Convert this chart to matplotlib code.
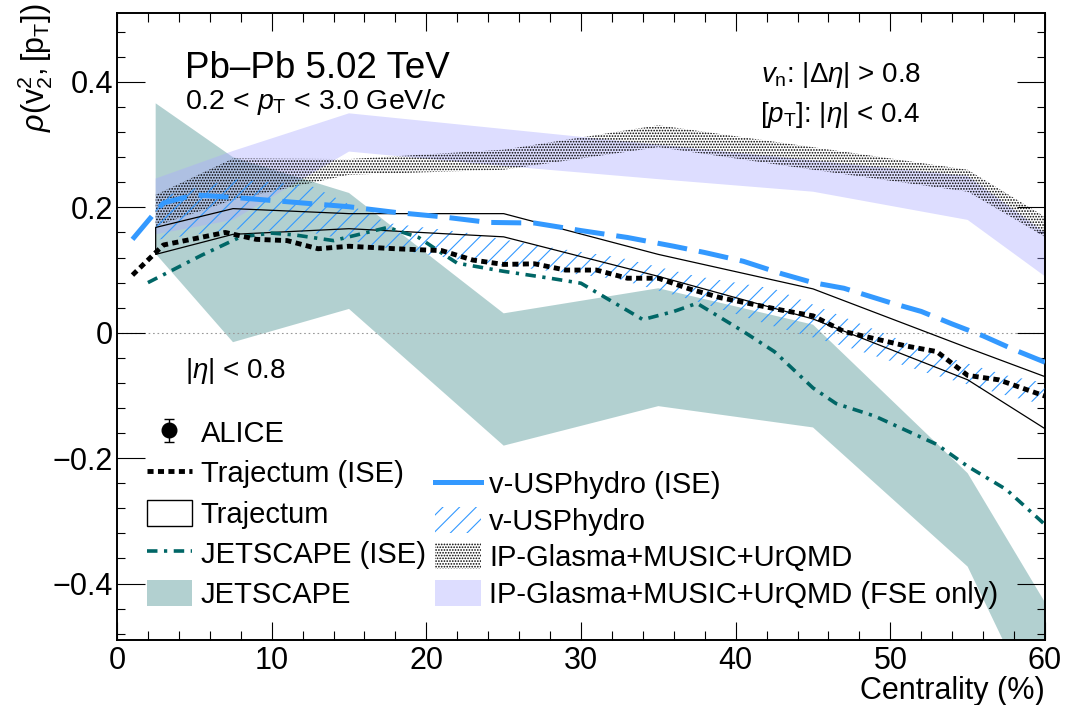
import numpy as np
import matplotlib
matplotlib.use("Agg")
import matplotlib.pyplot as plt
from matplotlib.patches import Patch
from matplotlib.lines import Line2D
from matplotlib.ticker import MultipleLocator, FuncFormatter
from matplotlib.legend_handler import HandlerErrorbar

plt.rcParams["font.family"] = ["Liberation Sans", "DejaVu Sans"]
plt.rcParams["mathtext.fontset"] = "custom"
plt.rcParams["mathtext.rm"] = "Liberation Sans"
plt.rcParams["mathtext.it"] = "Liberation Sans:italic"
plt.rcParams["mathtext.bf"] = "Liberation Sans:bold"
plt.rcParams["hatch.linewidth"] = 0.8

# ---------------- model bands (centrality %, lower / upper edge) ----------------
jet_x = [2.5, 7.5, 15, 25, 35, 45, 55, 60]
jet_hi = [0.366, 0.280, 0.223, 0.031, 0.071, 0.013, -0.224, -0.430]
jet_lo = [0.126, -0.015, 0.038, -0.180, -0.117, -0.151, -0.373, -0.630]

fse_x = [2.5, 7.5, 15, 25, 35, 45, 55, 60]
fse_hi = [0.246, 0.290, 0.350, 0.325, 0.300, 0.275, 0.250, 0.160]
fse_lo = [0.157, 0.180, 0.289, 0.266, 0.245, 0.225, 0.180, 0.090]

ipg_x = [2.5, 7.5, 15, 25, 35, 45, 55, 60]
ipg_hi = [0.220, 0.278, 0.277, 0.292, 0.331, 0.296, 0.260, 0.185]
ipg_lo = [0.170, 0.212, 0.252, 0.260, 0.296, 0.260, 0.225, 0.153]

vus_x = [2.5, 7.5, 12.5, 17.5, 22.5, 27.5, 32.5, 37.5, 42.5, 47.5, 52.5, 57.5, 60]
vus_hi = [0.215, 0.245, 0.235, 0.175, 0.160, 0.138, 0.120, 0.090, 0.070, 0.020, -0.030, -0.068, -0.080]
vus_lo = [0.148, 0.165, 0.160, 0.135, 0.115, 0.100, 0.085, 0.050, 0.010, -0.025, -0.065, -0.100, -0.115]

traj_x = [2.5, 7.5, 15, 25, 35, 45, 55, 60]
traj_hi = [0.168, 0.198, 0.190, 0.190, 0.125, 0.070, -0.024, -0.070]
traj_lo = [0.125, 0.157, 0.166, 0.153, 0.090, 0.022, -0.075, -0.153]

# ---------------- initial-state-engineered (ISE) curves ----------------
traj_ise_x = [1, 3, 7, 9, 11, 13, 15, 18, 21, 23, 25, 27, 29, 31, 33, 35, 37, 39,
              41, 43, 45, 47, 51, 53, 55, 57, 60]
traj_ise_y = [0.092, 0.140, 0.160, 0.149, 0.147, 0.134, 0.138, 0.134, 0.131, 0.116,
              0.109, 0.110, 0.100, 0.100, 0.087, 0.087, 0.070, 0.056, 0.046, 0.036,
              0.027, 0.002, -0.021, -0.030, -0.068, -0.075, -0.101]

jet_ise_x = [2, 5.5, 8, 10, 11.5, 14, 15.5, 17.5, 19.5, 21, 22, 25, 28, 30, 32, 34,
             36, 37.5, 40.5, 42.5, 45, 46.5, 49, 53, 55, 57.5, 60]
jet_ise_y = [0.080, 0.124, 0.153, 0.159, 0.156, 0.147, 0.156, 0.168, 0.152, 0.127,
             0.111, 0.098, 0.087, 0.079, 0.050, 0.021, 0.034, 0.047, 0.002, -0.030,
             -0.088, -0.113, -0.133, -0.178, -0.213, -0.250, -0.306]

vus_ise_x = [1, 2.5, 3, 5, 8, 12, 15, 18, 21, 24, 27, 30, 33, 36, 38, 40.5, 43, 45,
             47, 50, 52, 54, 56, 58, 60]
vus_ise_y = [0.149, 0.193, 0.207, 0.220, 0.215, 0.207, 0.201, 0.192, 0.185, 0.176,
             0.175, 0.163, 0.152, 0.138, 0.128, 0.114, 0.094, 0.080, 0.071, 0.048,
             0.034, 0.014, -0.005, -0.027, -0.047]

# ---------------- styles ----------------
C_JET = "#006666"
C_FSE = "#aaaaff"
C_VUS = "#3399ff"
C_IPG = "#000000"
DOTS = "......"

fig = plt.figure(figsize=(10.85, 7.05), dpi=100)
ax = fig.add_axes([117 / 1085, 65 / 705, 928 / 1085, 627 / 705])

ax.fill_between(jet_x, jet_lo, jet_hi, facecolor=C_JET, alpha=0.3, lw=0, zorder=1)
ax.axhline(0, color="#999999", lw=0.8, ls=(0, (1.5, 2.5)), zorder=1.5)
ax.fill_between(fse_x, fse_lo, fse_hi, facecolor=C_FSE, alpha=0.4, lw=0, zorder=2)
ax.fill_between(ipg_x, ipg_lo, ipg_hi, facecolor="none", edgecolor=C_IPG,
                hatch=DOTS, lw=0, zorder=3)
ax.fill_between(vus_x, vus_lo, vus_hi, facecolor="none", edgecolor=C_VUS,
                hatch="//", lw=0, zorder=4)
ax.fill_between(traj_x, traj_lo, traj_hi, facecolor="none", edgecolor="black",
                lw=0.9, zorder=5)

ls_dot = (0, (1.25, 0.9))
ls_dash = (0, (6.0, 2.4))
ls_dashdot = (0, (2.9, 1.8, 0.9, 1.8))
ax.plot(vus_ise_x, vus_ise_y, color=C_VUS, lw=3.6, ls=ls_dash, zorder=6)
ax.plot(jet_ise_x, jet_ise_y, color=C_JET, lw=2.6, ls=ls_dashdot, zorder=6)
ax.plot(traj_ise_x, traj_ise_y, color="black", lw=3.5, ls=ls_dot,
        dash_capstyle="butt", zorder=7)

# ---------------- axes ----------------
ax.set_xlim(0, 60)
ax.set_ylim(-0.49, 0.51)
ax.xaxis.set_major_locator(MultipleLocator(10))
ax.xaxis.set_minor_locator(MultipleLocator(2))
ax.yaxis.set_major_locator(MultipleLocator(0.2))
ax.yaxis.set_minor_locator(MultipleLocator(0.04))


def fmt(v, pos):
    if abs(v) < 1e-9:
        return "0"
    return ("%g" % round(v, 2)).replace("-", "\u2212")


ax.yaxis.set_major_formatter(FuncFormatter(fmt))
ax.tick_params(which="both", direction="in", top=True, right=True, width=0.8)
ax.tick_params(axis="x", which="major", length=13, labelsize=22, pad=4)
ax.tick_params(axis="x", which="minor", length=6.5)
ax.tick_params(axis="y", which="major", length=20, labelsize=22, pad=3)
ax.tick_params(axis="y", which="minor", length=6)
for s in ax.spines.values():
    s.set_linewidth(1.4)

ax.set_xlabel("Centrality (%)", fontsize=22, loc="right")
ax.xaxis.set_label_coords(1.0, -0.058)
ax.set_ylabel(r"$\rho(\mathrm{v}^{2}_{2},[\mathrm{p}_{\mathrm{T}}])$", fontsize=22, loc="top")
ax.yaxis.set_label_coords(-0.067, 1.016)

# ---------------- annotations ----------------
ax.text(0.0733, 0.896, "Pb\u2013Pb 5.02 TeV", fontsize=26.5, transform=ax.transAxes,
        va="baseline")
ax.text(0.0733, 0.8465, r"0.2 < $p_{\mathrm{T}}$ < 3.0 GeV/$c$", fontsize=20.5,
        transform=ax.transAxes, va="baseline")
ax.text(0.694, 0.890, r"$v_{\mathrm{n}}$: |$\Delta\eta$| > 0.8", fontsize=20,
        transform=ax.transAxes, va="baseline")
ax.text(0.693, 0.826, r"[$p_{\mathrm{T}}$]: |$\eta$| < 0.4", fontsize=20,
        transform=ax.transAxes, va="baseline")
ax.text(0.0733, 0.418, r"|$\eta$| < 0.8", fontsize=20, transform=ax.transAxes,
        va="baseline")

# ---------------- legends ----------------
# legend key for the measurement: filled circle with capped vertical error bar
alice = ax.errorbar([np.nan], [np.nan], yerr=[np.nan], fmt="o", color="black",
                    ms=10.5, capsize=3.5, elinewidth=1.0, capthick=1.0)
h_left = [
    alice,
    Line2D([], [], color="black", lw=3.5, ls=ls_dot, dash_capstyle="butt"),
    Patch(facecolor="none", edgecolor="black", lw=1.0),
    Line2D([], [], color=C_JET, lw=2.6, ls=ls_dashdot),
    Patch(facecolor=C_JET, alpha=0.3, lw=0),
]
l_left = ["ALICE", "Trajectum (ISE)", "Trajectum", "JETSCAPE (ISE)", "JETSCAPE"]
leg1 = ax.legend(h_left, l_left, loc="upper left", bbox_to_anchor=(0.032, 0.353),
                 frameon=False, fontsize=21, handlelength=1.55, handleheight=1.0,
                 handletextpad=0.3, labelspacing=0.39, borderpad=0, borderaxespad=0,
                 handler_map={type(alice): HandlerErrorbar(yerr_size=0.4)})
ax.add_artist(leg1)

h_right = [
    Line2D([], [], color=C_VUS, lw=3.6),
    Patch(facecolor="none", edgecolor=C_VUS, hatch="//", lw=0),
    Patch(facecolor="none", edgecolor=C_IPG, hatch=DOTS, lw=0),
    Patch(facecolor=C_FSE, alpha=0.4, lw=0),
]
l_right = ["v-USPhydro (ISE)", "v-USPhydro", "IP-Glasma+MUSIC+UrQMD",
           "IP-Glasma+MUSIC+UrQMD (FSE only)"]
ax.legend(h_right, l_right, loc="upper left", bbox_to_anchor=(0.343, 0.271),
          frameon=False, fontsize=21, handlelength=1.55, handleheight=1.0,
          handletextpad=0.3, labelspacing=0.26, borderpad=0, borderaxespad=0)

fig.savefig("out.png", dpi=100)
